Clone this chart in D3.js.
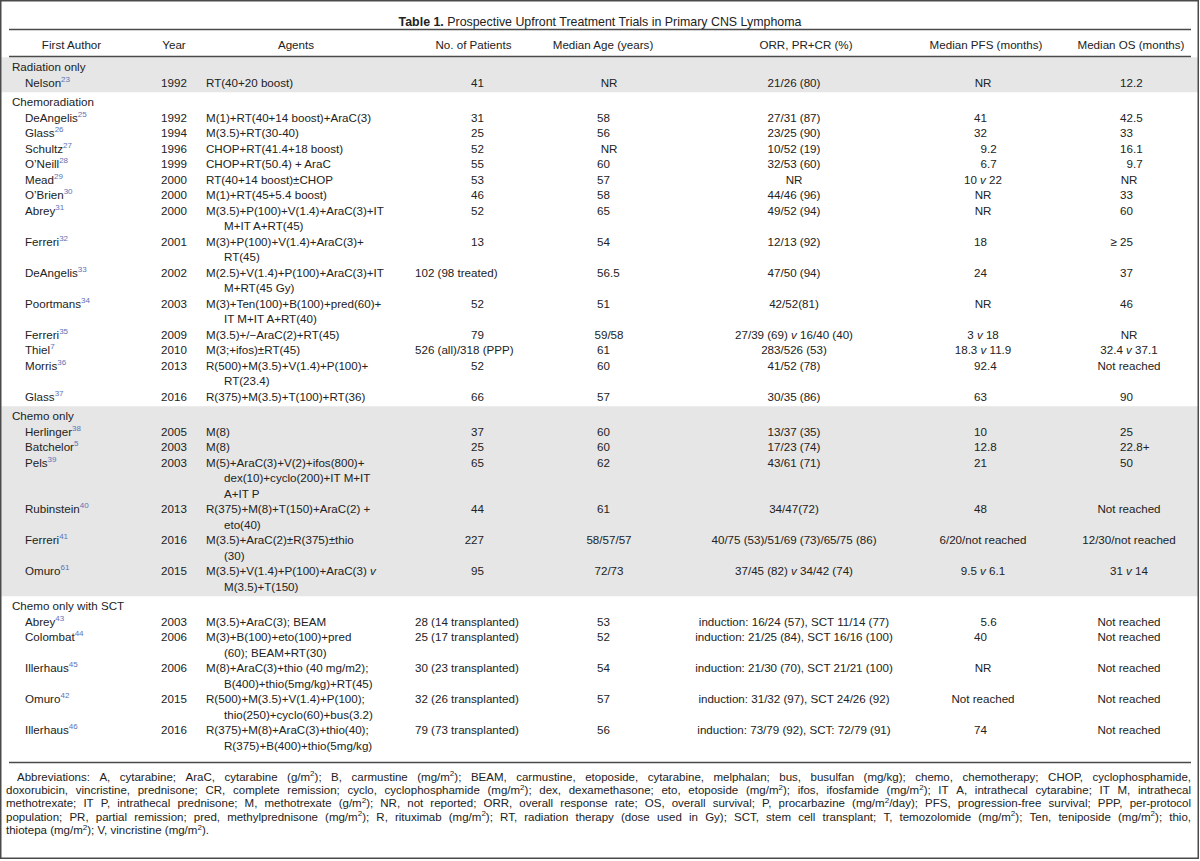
<!DOCTYPE html>
<html><head><meta charset="utf-8">
<script src="https://cdn.jsdelivr.net/npm/d3@7"></script>
<style>
html,body{margin:0;padding:0;background:#fff;}
svg text{font-family:"Liberation Sans",Arial,Helvetica,sans-serif;white-space:pre;}
</style></head><body>
<svg id="chart" width="1200" height="861"></svg>
<script>
// ---------- DATA ----------
const titleBold = "Table 1.";
const titleRest = " Prospective Upfront Treatment Trials in Primary CNS Lymphoma";
const columns = ["First Author","Year","Agents","No. of Patients","Median Age (years)","ORR, PR+CR (%)","Median PFS (months)","Median OS (months)"];
const sectionNames = ["Radiation only","Chemoradiation","Chemo only","Chemo only with SCT"];
const rowSection = [0,1,1,1,1,1,1,1,1,1,1,1,1,1,1,2,2,2,2,2,2,3,3,3,3,3];
const authors = ["Nelson","DeAngelis","Glass","Schultz","O\u2019Neill","Mead","O\u2019Brien","Abrey","Ferreri","DeAngelis","Poortmans","Ferreri","Thiel","Morris","Glass","Herlinger","Batchelor","Pels","Rubinstein","Ferreri","Omuro","Abrey","Colombat","Illerhaus","Omuro","Illerhaus"];
const refs = ["23","25","26","27","28","29","30","31","32","33","34","35","7","36","37","38","5","39","40","41","61","43","44","45","42","46"];
const years = ["1992","1992","1994","1996","1999","2000","2000","2000","2001","2002","2003","2009","2010","2013","2016","2005","2003","2003","2013","2016","2015","2003","2006","2006","2015","2016"];
const agents = [
 ["RT(40+20 boost)"],
 ["M(1)+RT(40+14 boost)+AraC(3)"],
 ["M(3.5)+RT(30-40)"],
 ["CHOP+RT(41.4+18 boost)"],
 ["CHOP+RT(50.4) + AraC"],
 ["RT(40+14 boost)\u00b1CHOP"],
 ["M(1)+RT(45+5.4 boost)"],
 ["M(3.5)+P(100)+V(1.4)+AraC(3)+IT","M+IT A+RT(45)"],
 ["M(3)+P(100)+V(1.4)+AraC(3)+","RT(45)"],
 ["M(2.5)+V(1.4)+P(100)+AraC(3)+IT","M+RT(45 Gy)"],
 ["M(3)+Ten(100)+B(100)+pred(60)+","IT M+IT A+RT(40)"],
 ["M(3.5)+/\u2212AraC(2)+RT(45)"],
 ["M(3;+ifos)\u00b1RT(45)"],
 ["R(500)+M(3.5)+V(1.4)+P(100)+","RT(23.4)"],
 ["R(375)+M(3.5)+T(100)+RT(36)"],
 ["M(8)"],
 ["M(8)"],
 ["M(5)+AraC(3)+V(2)+ifos(800)+","dex(10)+cyclo(200)+IT M+IT","A+IT P"],
 ["R(375)+M(8)+T(150)+AraC(2) +","eto(40)"],
 ["M(3.5)+AraC(2)\u00b1R(375)\u00b1thio","(30)"],
 ["M(3.5)+V(1.4)+P(100)+AraC(3) v","M(3.5)+T(150)"],
 ["M(3.5)+AraC(3); BEAM"],
 ["M(3)+B(100)+eto(100)+pred","(60); BEAM+RT(30)"],
 ["M(8)+AraC(3)+thio (40 mg/m2);","B(400)+thio(5mg/kg)+RT(45)"],
 ["R(500)+M(3.5)+V(1.4)+P(100);","thio(250)+cyclo(60)+bus(3.2)"],
 ["R(375)+M(8)+AraC(3)+thio(40);","R(375)+B(400)+thio(5mg/kg)"]
];
const patients = ["41","31","25","52","55","53","46","52","13","102 (98 treated)","52","79","526 (all)/318 (PPP)","52","66","37","25","65","44","227","95","28 (14 transplanted)","25 (17 transplanted)","30 (23 transplanted)","32 (26 transplanted)","79 (73 transplanted)"];
const ages = ["NR","58","56","NR","60","57","58","65","54","56.5","51","59/58","61","60","57","60","60","62","61","58/57/57","72/73","53","52","54","57","56"];
const orr = ["21/26 (80)","27/31 (87)","23/25 (90)","10/52 (19)","32/53 (60)","NR","44/46 (96)","49/52 (94)","12/13 (92)","47/50 (94)","42/52(81)","27/39 (69) v 16/40 (40)","283/526 (53)","41/52 (78)","30/35 (86)","13/37 (35)","17/23 (74)","43/61 (71)","34/47(72)","40/75 (53)/51/69 (73)/65/75 (86)","37/45 (82) v 34/42 (74)","induction: 16/24 (57), SCT 11/14 (77)","induction: 21/25 (84), SCT 16/16 (100)","induction: 21/30 (70), SCT 21/21 (100)","induction: 31/32 (97), SCT 24/26 (92)","induction: 73/79 (92), SCT: 72/79 (91)"];
const pfs = ["NR","41","32","9.2","6.7","10 v 22","NR","NR","18","24","NR","3 v 18","18.3 v 11.9","92.4","63","10","12.8","21","48","6/20/not reached","9.5 v 6.1","5.6","40","NR","Not reached","74"];
const os = ["12.2","42.5","33","16.1","9.7","NR","33","60","\u2265 25","37","46","NR","32.4 v 37.1","Not reached","90","25","22.8+","50","Not reached","12/30/not reached","31 v 14","Not reached","Not reached","Not reached","Not reached","Not reached"];
const footnote = [
 "Abbreviations: A, cytarabine; AraC, cytarabine (g/m^2); B, carmustine (mg/m^2); BEAM, carmustine, etoposide, cytarabine, melphalan; bus, busulfan (mg/kg); chemo, chemotherapy; CHOP, cyclophosphamide,",
 "doxorubicin, vincristine, prednisone; CR, complete remission; cyclo, cyclophosphamide (mg/m^2); dex, dexamethasone; eto, etoposide (mg/m^2); ifos, ifosfamide (mg/m^2); IT A, intrathecal cytarabine; IT M, intrathecal",
 "methotrexate; IT P, intrathecal prednisone; M, methotrexate (g/m^2); NR, not reported; ORR, overall response rate; OS, overall survival; P, procarbazine (mg/m^2/day); PFS, progression-free survival; PPP, per-protocol",
 "population; PR, partial remission; pred, methylprednisone (mg/m^2); R, rituximab (mg/m^2); RT, radiation therapy (dose used in Gy); SCT, stem cell transplant; T, temozolomide (mg/m^2); Ten, teniposide (mg/m^2); thio,",
 "thiotepa (mg/m^2); V, vincristine (mg/m^2)."
];

// ---------- LAYOUT ----------
const W = 1200, H = 861;
const FS = 11.6, FN = 11.5, FT = 12.4;
const TXT = "#222", LINE = "#4a4a4a", BAND = "#e6e6e6", REF = "#5b72b8";
const lineStep = 15.5, secGap = 4, firstLine = 67;
const svg = d3.select("#chart");

const colKeys = ["author","year","agents","patients","age","orr","pfs","os"];
const headX = d3.scaleOrdinal().domain(colKeys).range([71.5,174,296,473.5,603,806,986,1131]);
const alignX = d3.scaleOrdinal().domain(colKeys).range([25,174,206,484,610,794,987,1133]);
const altX = d3.scaleOrdinal().domain(colKeys).range([12,174,224,415,609,794,983,1129]);
const lineY = d3.scaleLinear().domain([0,1]).range([firstLine, firstLine + lineStep]);
const yOf = (line, sec) => lineY(line) + sec * secGap;
const base = c => c + 4;

const secLine = [], rowLine = [];
let li = 0;
sectionNames.forEach((s, k) => {
  secLine[k] = li; li++;
  rowSection.forEach((rs, i) => { if (rs === k) { rowLine[i] = li; li += agents[i].length; } });
});
const lastLineOf = k => { let m = secLine[k]; rowSection.forEach((rs,i)=>{ if(rs===k) m = Math.max(m, rowLine[i]+agents[i].length-1); }); return m; };

function rich(t, str, fs) {
  const pieces = str.split(/(\^\d+|\bv\b)/).filter(p => p !== "");
  let shift = 0;
  pieces.forEach(p => {
    const ts = t.append("tspan");
    if (p[0] === "^") {
      ts.text(p.slice(1)).attr("font-size", fs * 0.7).attr("dy", -fs * 0.38);
      shift = fs * 0.38;
    } else {
      ts.text(p);
      if (shift) { ts.attr("dy", shift); shift = 0; }
      if (p === "v") ts.attr("font-style", "italic");
    }
  });
  return t;
}
function measure(str, fs) {
  const t = svg.append("text").attr("font-size", fs);
  rich(t, str, fs);
  const w = t.node().getComputedTextLength();
  t.remove();
  return w;
}

// gray bands
[0, 2].forEach(k => {
  const top = yOf(secLine[k], k) - (lineStep + secGap) / 2;
  const bot = yOf(lastLineOf(k), k) + (lineStep + secGap) / 2;
  svg.append("rect").attr("x", 1.5).attr("y", top).attr("width", W - 3).attr("height", bot - top).attr("fill", BAND);
});

// title
const tt = svg.append("text").attr("x", 600).attr("y", 25.5).attr("text-anchor", "middle").attr("font-size", FT).attr("fill", TXT);
tt.append("tspan").attr("font-weight", "bold").text(titleBold);
tt.append("tspan").text(titleRest);

// rules
const lastBodyLine = lastLineOf(3);
const bottomRule = yOf(lastBodyLine, 3) + 17;
[[29.5, 1.3], [56.5, 1.6], [bottomRule, 1.3]].forEach(([y, w]) => {
  svg.append("line").attr("x1", 9).attr("x2", 1191).attr("y1", y).attr("y2", y).attr("stroke", LINE).attr("stroke-width", w);
});

// header
svg.selectAll("text.head").data(columns).join("text").attr("class", "head")
  .attr("x", (d, i) => headX(colKeys[i])).attr("y", base(45)).attr("text-anchor", "middle")
  .attr("font-size", FS).attr("fill", TXT).text(d => d);

// section labels
sectionNames.forEach((s, k) => {
  svg.append("text").attr("x", altX("author")).attr("y", base(yOf(secLine[k], k)))
    .attr("font-size", FS).attr("fill", TXT).text(s);
});

const isNum = s => /^(\u2265 )?\d+(\.\d+)?\+?$/.test(s);
function cell(key, str, yb, mode) {
  const t = svg.append("text").attr("y", yb).attr("font-size", FS).attr("fill", TXT);
  if (isNum(str)) {
    const lead = str.match(/^(\D*\d+)/)[1];
    t.attr("x", alignX(key) - measure(lead, FS));
  } else if (mode === "leftAlt") { t.attr("x", altX(key)); }
  else { t.attr("x", altX(key)).attr("text-anchor", "middle"); }
  rich(t, str, FS);
}

authors.forEach((a, i) => {
  const k = rowSection[i];
  const yc = yOf(rowLine[i], k), yb = base(yc);
  const t = svg.append("text").attr("x", alignX("author")).attr("y", yb).attr("font-size", FS).attr("fill", TXT);
  t.append("tspan").text(a);
  t.append("tspan").attr("font-size", 8).attr("dy", -5).attr("fill", REF).text(refs[i]);
  svg.append("text").attr("x", alignX("year")).attr("y", yb).attr("text-anchor", "middle").attr("font-size", FS).attr("fill", TXT).text(years[i]);
  agents[i].forEach((ln, j) => {
    const ta = svg.append("text").attr("x", j === 0 ? alignX("agents") : altX("agents"))
      .attr("y", base(yOf(rowLine[i] + j, k))).attr("font-size", FS).attr("fill", TXT);
    rich(ta, ln, FS);
  });
  cell("patients", patients[i], yb, "leftAlt");
  cell("age", ages[i], yb, "center");
  cell("orr", orr[i], yb, "center");
  cell("pfs", pfs[i], yb, "center");
  cell("os", os[i], yb, "center");
});

// footnote (justified)
const fnTop = bottomRule + 18, fnStep = 13.4;
footnote.forEach((ln, i) => {
  const x0 = i === 0 ? 17 : 6, x1 = 1191;
  const yb = fnTop + i * fnStep;
  const words = ln.split(" ");
  const ws = words.map(w => measure(w, FN));
  const sp = measure("a a", FN) - measure("aa", FN);
  const gap = (i < footnote.length - 1) ? (x1 - x0 - d3.sum(ws)) / (words.length - 1) : sp;
  let x = x0;
  words.forEach((w, j) => {
    const t = svg.append("text").attr("x", x).attr("y", yb).attr("font-size", FN).attr("fill", TXT);
    rich(t, w, FN);
    x += ws[j] + gap;
  });
});

// outer frame
svg.append("rect").attr("x", 0.75).attr("y", 0.75).attr("width", W - 2.5).attr("height", 857.5)
  .attr("fill", "none").attr("stroke", LINE).attr("stroke-width", 1.5);
</script>
</body></html>
